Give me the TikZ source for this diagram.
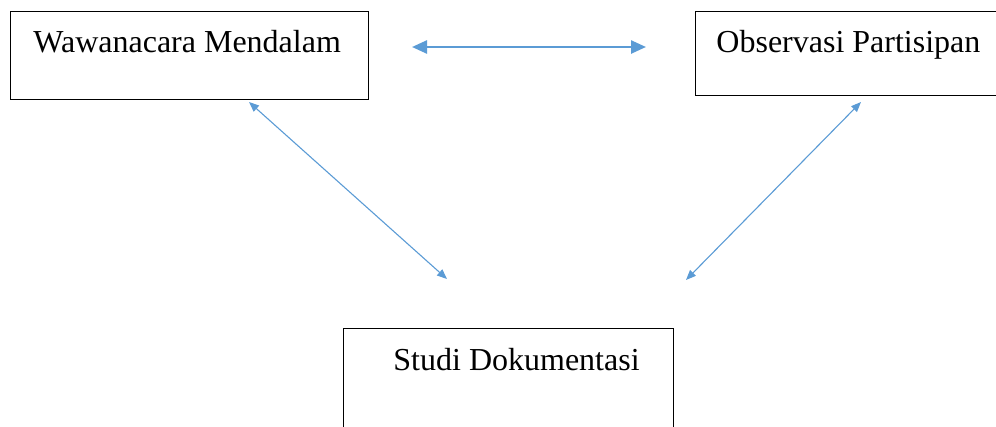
\documentclass[tikz,border=0pt]{standalone}
\usepackage{fontspec}
\setmainfont{Liberation Serif}
\usetikzlibrary{arrows.meta,positioning}
\definecolor{arrowblue}{HTML}{5B9BD5}

\begin{document}
\begin{tikzpicture}[x=1pt,y=-1pt,
   box/.style={draw,rectangle,inner sep=0pt,line width=0.9pt,anchor=north west,font=\fontsize{32}{38}\selectfont},
   bigarrow/.style={arrowblue,line width=2.5pt,{Triangle[length=15pt,width=13pt]}-{Triangle[length=15pt,width=13pt]}},
   smallarrow/.style={arrowblue,line width=1.1pt,{Triangle[length=10pt,width=8pt]}-{Triangle[length=10pt,width=8pt]}}]
   \useasboundingbox (0,0) rectangle (996,426);
   \node[box,text height=41pt,text depth=47pt] (wm) at (10,11) {\makebox[358pt][l]{\hspace*{23pt}Wawanacara Mendalam}};
   \node[box,text height=41pt,text depth=43pt] (op) at (695,11) {\makebox[330pt][l]{\hspace*{21pt}Observasi Partisipan}};
   \node[box,text height=42pt,text depth=60pt] (sd) at (343,328) {\makebox[330pt][l]{\hspace*{50pt}Studi Dokumentasi}};
   \coordinate (wm-r) at (412,47);
   \coordinate (op-l) at (646,47);
   \coordinate (wm-b) at (249,102);
   \coordinate (sd-l) at (447,279);
   \coordinate (op-b) at (861,102);
   \coordinate (sd-r) at (686,280);
    \path
    (wm-r) edge[bigarrow] (op-l)
    (wm-b) edge[smallarrow] (sd-l)
    (op-b) edge[smallarrow] (sd-r);
\end{tikzpicture}
\end{document}
